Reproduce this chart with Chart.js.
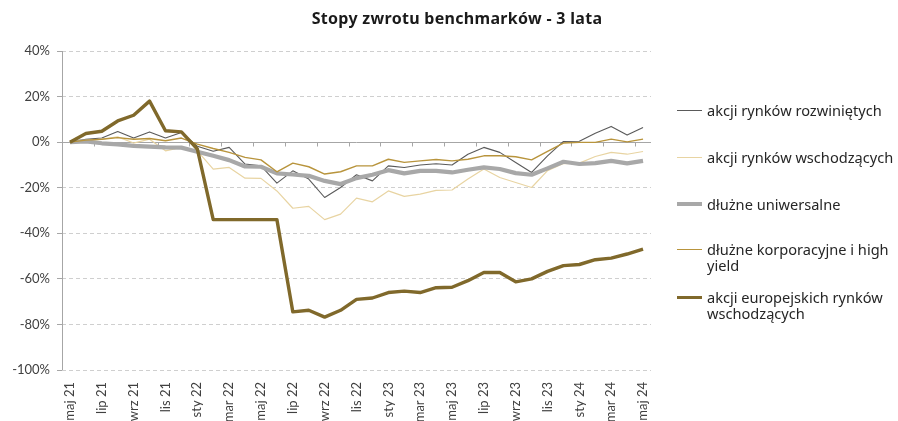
<!DOCTYPE html>
<html>
<head>
<meta charset="utf-8">
<script src="https://cdn.jsdelivr.net/npm/chart.js@4"></script>
<style>
  html, body { margin: 0; padding: 0; background: #fff; }
  #wrap { position: relative; width: 898px; height: 421px; overflow: hidden; }
  #title { position: absolute; left: 8px; top: 7px; width: 898px; text-align: center;
           font-family: "Noto Sans", sans-serif; font-weight: bold; font-size: 16px;
           letter-spacing: 0.3px; color: #1a1a1a; }
  .lg { position: absolute; left: 677px; font-family: "Noto Sans", sans-serif; font-size: 14.6px;
        color: #262626; line-height: 16px; }
  .lg .sw { position: absolute; left: 0; width: 25px; }
  .lg .tx { position: absolute; left: 30px; white-space: nowrap; }
</style>
</head>
<body>
<div id="wrap">
  <canvas id="c" width="898" height="421"></canvas>
  <div id="title">Stopy zwrotu benchmarków - 3 lata</div>
  <div id="legend"></div>
</div>
<script>
const categories = [
  "maj 21","cze 21","lip 21","sie 21","wrz 21","paź 21","lis 21","gru 21",
  "sty 22","lut 22","mar 22","kwi 22","maj 22","cze 22","lip 22","sie 22",
  "wrz 22","paź 22","lis 22","gru 22","sty 23","lut 23","mar 23","kwi 23",
  "maj 23","cze 23","lip 23","sie 23","wrz 23","paź 23","lis 23","gru 23",
  "sty 24","lut 24","mar 24","kwi 24","maj 24"
];

const seriesNames = [
  "akcji rynków rozwiniętych",
  "akcji rynków wschodzących",
  "dłużne uniwersalne",
  "dłużne korporacyjne i high yield",
  "akcji europejskich rynków wschodzących"
];

const developedEquity = [
  0, 1.3, 1.8, 4.7, 1.8, 4.5, 1.8, 4.2, -1.8, -4, -2.3, -9.6, -10.4, -18,
  -12.6, -16.2, -24.3, -19.9, -14.3, -17, -10.4, -11.1, -10, -9.5, -10,
  -5.3, -2.3, -4.5, -8.9, -13.3, -6, 0.3, 0.4, 3.9, 6.9, 3.1, 6.4
];

const emergingEquity = [
  0, 0.6, 1.3, 2.3, -0.4, 1.3, -3.8, -2.3, -3.8, -11.8, -11.1, -15.8, -15.9,
  -21.4, -29, -28.2, -34, -31.6, -24.6, -26.2, -21.4, -23.8, -22.8, -21.2,
  -21, -16.2, -11.8, -15.5, -17.7, -19.9, -12.5, -9.4, -9.2, -6.3, -4.5,
  -5.3, -4.1
];

const universalBonds = [
  0, 0.3, -0.5, -1, -1.6, -2, -2.3, -2.4, -4.2, -6, -7.9, -10.7, -10.8,
  -13.7, -14.2, -14.8, -17, -18.4, -15.8, -14.3, -12.3, -13.7, -12.6, -12.6,
  -13.3, -12.1, -11.1, -11.8, -13.6, -14.3, -11.5, -8.6, -9.6, -9.2, -8.2,
  -9.3, -8.2
];

const corpHighYield = [
  0, 0.9, 1.3, 2, 1.3, 1.6, 0.6, 1.8, -0.9, -2.8, -4.5, -6.7, -7.8, -13,
  -9.2, -10.8, -14, -13, -10.4, -10.4, -7.5, -8.9, -8.2, -7.6, -8.2, -7.5,
  -6, -6, -6.4, -7.8, -4.1, -0.4, -0.1, -0.1, 1.3, 0.1, 1.3
];

const euroEmergingEquity = [
  0, 3.8, 4.8, 9.3, 11.8, 18, 5, 4.5, -3, -34, -34, -34, -34, -34,
  -74.5, -73.8, -76.8, -73.8, -69, -68.4, -66, -65.4, -66, -63.9, -63.7,
  -60.8, -57.2, -57.2, -61.3, -60, -56.7, -54.2, -53.7, -51.6, -50.9,
  -49.1, -46.9
];

const yTicks = [40, 20, 0, -20, -40, -60, -80, -100];

const styles = [
  { color: "#5a5a5a", width: 1.1, sw: 1 },
  { color: "#e8d4a2", width: 1.2, sw: 1 },
  { color: "#a8a8a8", width: 4.2, sw: 4 },
  { color: "#b8943c", width: 1.4, sw: 1 },
  { color: "#80692b", width: 3.4, sw: 3 }
];
const seriesData = [developedEquity, emergingEquity, universalBonds, corpHighYield, euroEmergingEquity];

const datasets = seriesData.map((d, i) => ({
  label: seriesNames[i],
  data: d,
  borderColor: styles[i].color,
  backgroundColor: styles[i].color,
  borderWidth: styles[i].width,
  pointRadius: 0,
  pointHoverRadius: 0,
  tension: 0,
  fill: false,
  borderJoinStyle: "round",
  order: 5 - i
}));

const axisPlugin = {
  id: "axisLines",
  beforeDatasetsDraw(chart) {
    const { ctx, chartArea, scales } = chart;
    const x = scales.x, y = scales.y;
    const y0 = Math.round(y.getPixelForValue(0)) + 0.5;
    ctx.save();
    ctx.strokeStyle = "#a6a6a6";
    ctx.lineWidth = 1;
    ctx.setLineDash([]);
    ctx.beginPath();
    ctx.moveTo(chartArea.left, y0);
    ctx.lineTo(chartArea.right, y0);
    ctx.stroke();
    const half = (x.getPixelForValue(1) - x.getPixelForValue(0)) / 2;
    ctx.beginPath();
    for (let i = 1; i < categories.length - 1; i += 2) {
      const px = Math.round(x.getPixelForValue(i) + half) + 0.5;
      ctx.moveTo(px, y0);
      ctx.lineTo(px, y0 + 4);
    }
    ctx.stroke();
    const lx = Math.round(chartArea.left) + 0.5;
    ctx.beginPath();
    ctx.moveTo(lx, chartArea.top);
    ctx.lineTo(lx, chartArea.bottom);
    ctx.stroke();
    ctx.restore();
  }
};

new Chart(document.getElementById("c"), {
  type: "line",
  data: { labels: categories, datasets },
  options: {
    responsive: false,
    animation: false,
    layout: { padding: { left: 0, right: 247, top: 51, bottom: 0 } },
    plugins: { legend: { display: false }, title: { display: false }, tooltip: { enabled: false } },
    scales: {
      x: {
        type: "category",
        offset: true,
        grid: { display: false, drawTicks: false },
        border: { display: false },
        ticks: {
          autoSkip: false,
          minRotation: 90,
          maxRotation: 90,
          padding: 12,
          color: "#404040",
          font: { family: "Lato", size: 13 },
          callback: function (v, i) { return i % 2 === 0 ? categories[i] : ""; }
        },
        afterFit(scale) { scale.height = 51; }
      },
      y: {
        min: -100,
        max: 40,
        afterBuildTicks(scale) { scale.ticks = yTicks.map(v => ({ value: v })); },
        grid: {
          color: (c) => (c.tick && c.tick.value === 0) ? "rgba(0,0,0,0)" : "#cfcfcf",
          tickColor: "#a6a6a6",
          tickLength: 5,
          lineWidth: 1
        },
        border: { display: false, dash: [4, 3] },
        ticks: {
          padding: 7,
          color: "#404040",
          font: { family: "Lato", size: 13 },
          callback: (v) => v + "%"
        },
        afterFit(scale) { scale.width = 62; }
      }
    }
  },
  plugins: [axisPlugin]
});

const legendPos = [
  { y: 110 }, { y: 157 }, { y: 204 }, { y: 249 }, { y: 297 }
];
const legendText = [
  "akcji rynków rozwiniętych",
  "akcji rynków wschodzących",
  "dłużne uniwersalne",
  "dłużne korporacyjne i high<br>yield",
  "akcji europejskich rynków<br>wschodzących"
];
const lg = document.getElementById("legend");
legendPos.forEach((p, i) => {
  const d = document.createElement("div");
  d.className = "lg";
  d.style.top = (p.y - 8) + "px";
  const sw = document.createElement("div");
  sw.className = "sw";
  const h = styles[i].sw;
  sw.style.height = h + "px";
  sw.style.top = (8 - Math.floor(h / 2)) + "px";
  sw.style.background = styles[i].color;
  const tx = document.createElement("div");
  tx.className = "tx";
  tx.innerHTML = legendText[i];
  d.appendChild(sw);
  d.appendChild(tx);
  lg.appendChild(d);
});
</script>
</body>
</html>
